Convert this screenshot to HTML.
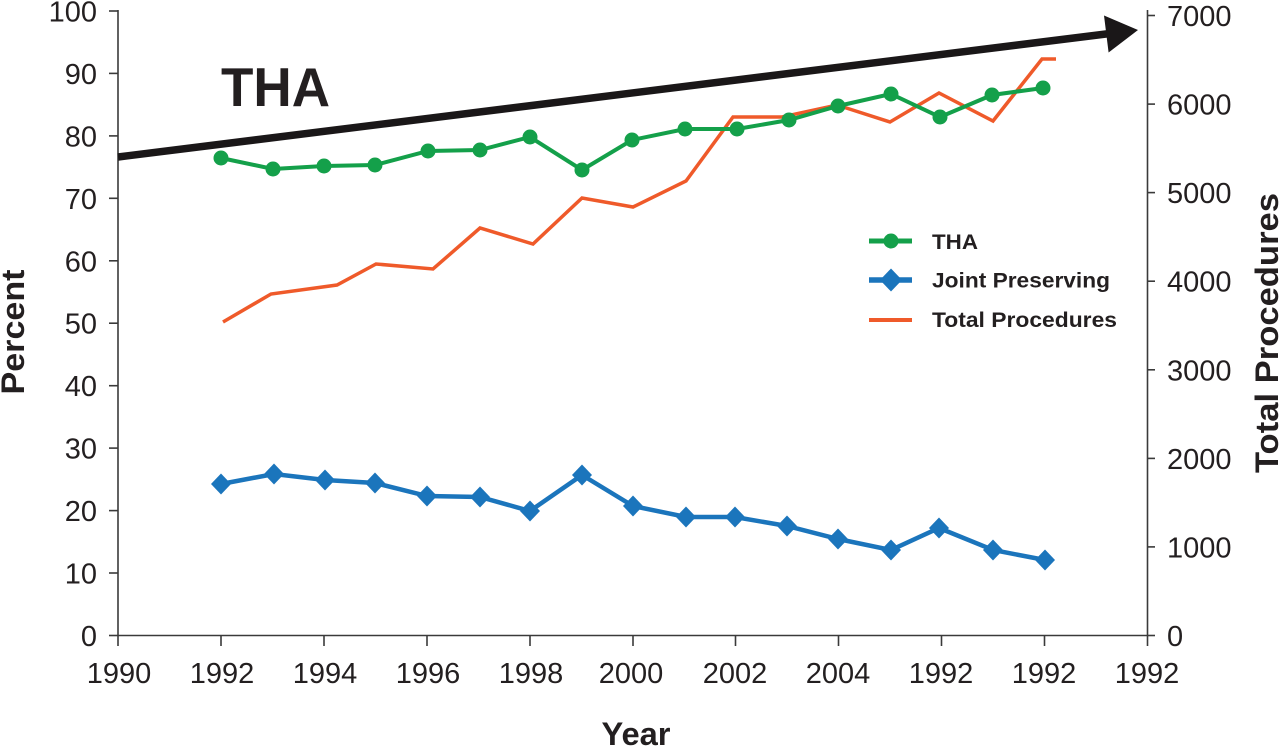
<!DOCTYPE html>
<html>
<head>
<meta charset="utf-8">
<style>
html,body{margin:0;padding:0;background:#fff;}
svg{display:block;}
text{font-family:"Liberation Sans",Arial,sans-serif;fill:#231f20;}
</style>
</head>
<body>
<svg width="1280" height="747" viewBox="0 0 1280 747" xmlns="http://www.w3.org/2000/svg">
<!-- axes -->
<g stroke="#3a3a3a" stroke-width="1.6" fill="none">
  <line x1="118" y1="10" x2="118" y2="636"/>
  <line x1="118" y1="635.5" x2="1147.5" y2="635.5"/>
  <line x1="1147.5" y1="10" x2="1147.5" y2="636"/>
  <!-- left ticks -->
  <line x1="109" y1="11" x2="118" y2="11"/>
  <line x1="109" y1="73.4" x2="118" y2="73.4"/>
  <line x1="109" y1="135.9" x2="118" y2="135.9"/>
  <line x1="109" y1="198.3" x2="118" y2="198.3"/>
  <line x1="109" y1="260.8" x2="118" y2="260.8"/>
  <line x1="109" y1="323.2" x2="118" y2="323.2"/>
  <line x1="109" y1="385.7" x2="118" y2="385.7"/>
  <line x1="109" y1="448.1" x2="118" y2="448.1"/>
  <line x1="109" y1="510.6" x2="118" y2="510.6"/>
  <line x1="109" y1="573" x2="118" y2="573"/>
  <line x1="109" y1="635.5" x2="118" y2="635.5"/>
  <!-- right ticks -->
  <line x1="1147.5" y1="15.5" x2="1155" y2="15.5"/>
  <line x1="1147.5" y1="104.1" x2="1155" y2="104.1"/>
  <line x1="1147.5" y1="192.6" x2="1155" y2="192.6"/>
  <line x1="1147.5" y1="281.2" x2="1155" y2="281.2"/>
  <line x1="1147.5" y1="369.8" x2="1155" y2="369.8"/>
  <line x1="1147.5" y1="458.4" x2="1155" y2="458.4"/>
  <line x1="1147.5" y1="546.9" x2="1155" y2="546.9"/>
  <line x1="1147.5" y1="635.5" x2="1155" y2="635.5"/>
  <!-- bottom ticks -->
  <line x1="118" y1="635.5" x2="118" y2="646"/>
  <line x1="221" y1="635.5" x2="221" y2="646"/>
  <line x1="324" y1="635.5" x2="324" y2="646"/>
  <line x1="427" y1="635.5" x2="427" y2="646"/>
  <line x1="530" y1="635.5" x2="530" y2="646"/>
  <line x1="633" y1="635.5" x2="633" y2="646"/>
  <line x1="735.5" y1="635.5" x2="735.5" y2="646"/>
  <line x1="838.5" y1="635.5" x2="838.5" y2="646"/>
  <line x1="941.5" y1="635.5" x2="941.5" y2="646"/>
  <line x1="1044.5" y1="635.5" x2="1044.5" y2="646"/>
  <line x1="1147.5" y1="635.5" x2="1147.5" y2="646"/>
</g>

<!-- left tick labels -->
<g font-size="29" text-anchor="end">
  <text x="97" y="21.5">100</text>
  <text x="97" y="84">90</text>
  <text x="97" y="146.4">80</text>
  <text x="97" y="208.8">70</text>
  <text x="97" y="271.3">60</text>
  <text x="97" y="333.7">50</text>
  <text x="97" y="396.2">40</text>
  <text x="97" y="458.6">30</text>
  <text x="97" y="521.1">20</text>
  <text x="97" y="583.5">10</text>
  <text x="97" y="646">0</text>
</g>

<!-- right tick labels -->
<g font-size="29" text-anchor="start">
  <text x="1167" y="26">7000</text>
  <text x="1167" y="114.6">6000</text>
  <text x="1167" y="203.1">5000</text>
  <text x="1167" y="291.7">4000</text>
  <text x="1167" y="380.3">3000</text>
  <text x="1167" y="468.9">2000</text>
  <text x="1167" y="557.4">1000</text>
  <text x="1167" y="646">0</text>
</g>

<!-- bottom tick labels -->
<g font-size="29" text-anchor="middle">
  <text x="119" y="683">1990</text>
  <text x="222" y="683">1992</text>
  <text x="325" y="683">1994</text>
  <text x="428" y="683">1996</text>
  <text x="531" y="683">1998</text>
  <text x="631" y="683">2000</text>
  <text x="735" y="683">2002</text>
  <text x="838" y="683">2004</text>
  <text x="941" y="683">1992</text>
  <text x="1044" y="683">1992</text>
  <text x="1147" y="683">1992</text>
</g>

<!-- axis titles -->
<text x="636" y="745" font-size="32" font-weight="bold" text-anchor="middle" textLength="69" lengthAdjust="spacingAndGlyphs">Year</text>
<text transform="translate(24,332) rotate(-90)" font-size="32" font-weight="bold" text-anchor="middle" textLength="125" lengthAdjust="spacingAndGlyphs">Percent</text>
<text transform="translate(1278,333) rotate(-90)" font-size="32" font-weight="bold" text-anchor="middle" textLength="280" lengthAdjust="spacingAndGlyphs">Total Procedures</text>

<!-- Total procedures (orange) -->
<polyline fill="none" stroke="#ef5a2a" stroke-width="3.5" stroke-linejoin="miter"
  points="223,322 271,294 337,285 376,264 433,269 480,228 533,244 582,198 633,207 686,181 733,117 782,117 837,105 890,122 939,93 993,121 1042,59 1056,59"/>

<!-- THA (green) -->
<polyline fill="none" stroke="#14a04a" stroke-width="4"
  points="221,158 273,169 324,166 375,165 428,151 480,150 530,137 582,170 632,140 685,129 737,129 789,120 838,106 891,94 940,117 992,95 1043,88"/>
<g fill="#14a04a">
  <circle cx="221" cy="158" r="7.5"/>
  <circle cx="273" cy="169" r="7.5"/>
  <circle cx="324" cy="166" r="7.5"/>
  <circle cx="375" cy="165" r="7.5"/>
  <circle cx="428" cy="151" r="7.5"/>
  <circle cx="480" cy="150" r="7.5"/>
  <circle cx="530" cy="137" r="7.5"/>
  <circle cx="582" cy="170" r="7.5"/>
  <circle cx="632" cy="140" r="7.5"/>
  <circle cx="685" cy="129" r="7.5"/>
  <circle cx="737" cy="129" r="7.5"/>
  <circle cx="789" cy="120" r="7.5"/>
  <circle cx="838" cy="106" r="7.5"/>
  <circle cx="891" cy="94" r="7.5"/>
  <circle cx="940" cy="117" r="7.5"/>
  <circle cx="992" cy="95" r="7.5"/>
  <circle cx="1043" cy="88" r="7.5"/>
</g>

<!-- Joint preserving (blue) -->
<polyline fill="none" stroke="#1b75bc" stroke-width="4.5"
  points="221,484 274,474 325,480 375,483 427,496 480,497 530,511 582,475 633,506 686,517 735,517 787,526 838,539 891,550 939,528 993,550 1045,560"/>
<g fill="#1b75bc">
  <polygon points="221,473.5 231,484 221,494.5 211,484"/>
  <polygon points="274,463.5 284,474 274,484.5 264,474"/>
  <polygon points="325,469.5 335,480 325,490.5 315,480"/>
  <polygon points="375,472.5 385,483 375,493.5 365,483"/>
  <polygon points="427,485.5 437,496 427,506.5 417,496"/>
  <polygon points="480,486.5 490,497 480,507.5 470,497"/>
  <polygon points="530,500.5 540,511 530,521.5 520,511"/>
  <polygon points="582,464.5 592,475 582,485.5 572,475"/>
  <polygon points="633,495.5 643,506 633,516.5 623,506"/>
  <polygon points="686,506.5 696,517 686,527.5 676,517"/>
  <polygon points="735,506.5 745,517 735,527.5 725,517"/>
  <polygon points="787,515.5 797,526 787,536.5 777,526"/>
  <polygon points="838,528.5 848,539 838,549.5 828,539"/>
  <polygon points="891,539.5 901,550 891,560.5 881,550"/>
  <polygon points="939,517.5 949,528 939,538.5 929,528"/>
  <polygon points="993,539.5 1003,550 993,560.5 983,550"/>
  <polygon points="1045,549.5 1055,560 1045,570.5 1035,560"/>
</g>

<!-- Big arrow -->
<line x1="118" y1="157" x2="1110" y2="33.5" stroke="#1a1718" stroke-width="7.5"/>
<polygon points="1138,30 1104,15.5 1108.6,52.5" fill="#1a1718"/>
<text x="221" y="106" font-size="55" font-weight="bold" textLength="109" lengthAdjust="spacingAndGlyphs" fill="#1a1718">THA</text>

<!-- Legend -->
<line x1="869" y1="241" x2="912" y2="241" stroke="#14a04a" stroke-width="5"/>
<circle cx="891" cy="241" r="7.5" fill="#14a04a"/>
<text x="932" y="249" font-size="21" font-weight="bold" textLength="46" lengthAdjust="spacingAndGlyphs">THA</text>

<line x1="869" y1="280" x2="912" y2="280" stroke="#1b75bc" stroke-width="5.5"/>
<polygon points="891,268.5 902,280 891,291.5 880,280" fill="#1b75bc"/>
<text x="932" y="287.5" font-size="21" font-weight="bold" textLength="178" lengthAdjust="spacingAndGlyphs">Joint Preserving</text>

<line x1="869" y1="320" x2="912" y2="320" stroke="#ef5a2a" stroke-width="4"/>
<text x="932" y="327" font-size="21" font-weight="bold" textLength="185" lengthAdjust="spacingAndGlyphs">Total Procedures</text>
</svg>
</body>
</html>
